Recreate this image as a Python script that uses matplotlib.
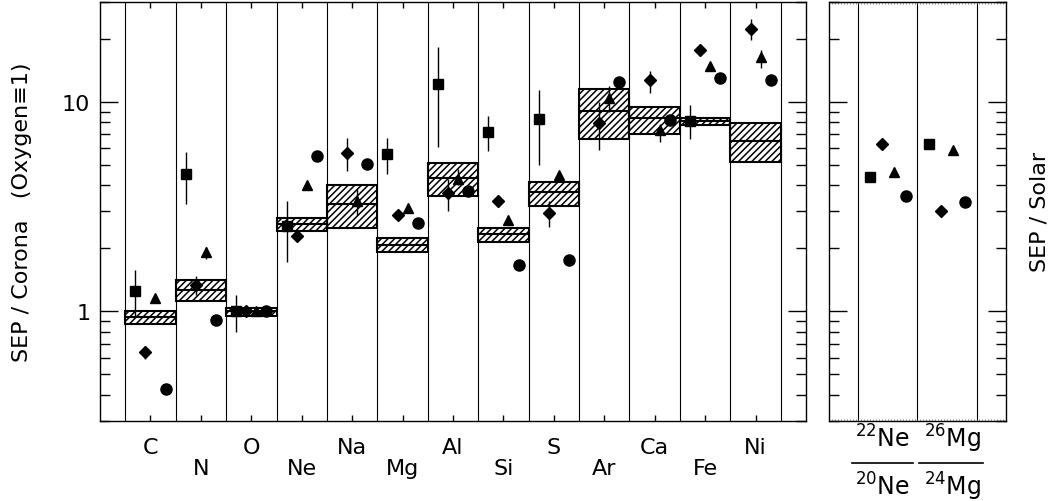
import numpy as np
import matplotlib
matplotlib.use("Agg")
import matplotlib.pyplot as plt
import matplotlib.transforms as mtrans
from matplotlib.ticker import FixedLocator, LogLocator, NullFormatter, MultipleLocator

plt.rcParams['font.family'] = ['DejaVu Sans']
plt.rcParams['hatch.linewidth'] = 1.1

nan = np.nan

# elements, left panel
elements = ['C', 'N', 'O', 'Ne', 'Na', 'Mg', 'Al', 'Si', 'S', 'Ar', 'Ca', 'Fe', 'Ni']

# corona bands (lo, mid, hi)
band_lo = [0.87, 1.12, 0.953, 2.43, 2.50, 1.92, 3.55, 2.14, 3.20, 6.67, 7.05, 7.73, 5.17]
band_mid = [0.935, 1.26, 1.0, 2.62, 3.26, 2.08, 4.33, 2.33, 3.71, 9.1, 8.37, 8.09, 6.55]
band_hi = [1.0, 1.41, 1.04, 2.80, 4.03, 2.23, 5.11, 2.50, 4.17, 11.6, 9.51, 8.40, 7.95]

# four SEP data sets
sq = [1.25, 4.54, 1.0, 2.57, nan, 5.66, 12.2, 7.23, 8.26, nan, nan, 8.11, nan]
sq_lo = [0.95, 3.26, 0.80, 1.72, nan, 4.51, 6.13, 5.81, 4.98, nan, nan, 6.63, nan]
sq_hi = [1.58, 5.8, 1.196, 3.38, nan, 6.72, 18.3, 8.56, 11.4, nan, nan, 9.65, nan]

di = [0.64, 1.34, 1.0, 2.30, 5.70, 2.89, 3.67, 3.36, 2.96, 7.93, 12.7, 17.8, 22.4]
di_lo = [0.59, 1.19, nan, nan, 4.66, nan, 3.0, nan, 2.54, 5.87, 11.1, nan, 19.8]
di_hi = [0.685, 1.48, nan, nan, 6.72, nan, 4.30, nan, 3.38, 10.0, 14.1, nan, 25.0]

tr = [1.16, 1.92, 1.0, 4.03, 3.38, 3.11, 4.30, 2.74, 4.49, 10.45, 7.39, 14.9, 16.4]
tr_lo = [nan, 1.78, nan, nan, 2.87, nan, 4.0, nan, nan, 8.95, 6.43, nan, 14.6]
tr_hi = [nan, 2.03, nan, nan, 3.85, nan, 4.8, nan, nan, 11.9, 7.86, nan, 17.7]

ci = [0.425, 0.91, 1.0, 5.55, 5.07, 2.65, 3.75, 1.665, 1.75, 12.47, 8.23, 13.0, 12.7]

# isotope ratios, right panel
ratios = [r'$^{22}$Ne', r'$^{26}$Mg']
ratios_den = [r'$^{20}$Ne', r'$^{24}$Mg']
r_sq = [4.40, 6.32]
r_di = [6.27, 3.01]
r_tr = [4.62, 5.91]
r_ci = [3.57, 3.32]

fig = plt.figure(figsize=(10.64, 5.02), dpi=100)
ax = fig.add_axes([0.094, 0.160, 0.6635, 0.8335])
ax2 = fig.add_axes([0.7791, 0.160, 0.1664, 0.8335])

x = np.arange(len(elements))
mk = dict(color='black', linestyle='none', zorder=5)

for i in range(len(elements)):
    ax.bar(x[i], band_hi[i] - band_lo[i], bottom=band_lo[i], width=1.0,
           fill=False, hatch='/////', edgecolor='black', linewidth=1.5, zorder=2)
    ax.hlines(band_mid[i], x[i] - 0.5, x[i] + 0.5, color='black', lw=1.5, zorder=2)

for b in np.arange(-0.5, len(elements), 1.0):
    ax.axvline(b, color='black', lw=0.8, zorder=1)


def errs(v, lo, hi):
    v, lo, hi = np.array(v), np.array(lo), np.array(hi)
    return np.nan_to_num(np.vstack([v - lo, hi - v]))


ax.errorbar(x - 0.3, sq, yerr=errs(sq, sq_lo, sq_hi), fmt='s', ms=7, capsize=0, elinewidth=1, **mk)
ax.errorbar(x - 0.1, di, yerr=errs(di, di_lo, di_hi), fmt='D', ms=6, capsize=0, elinewidth=1, **mk)
ax.errorbar(x + 0.1, tr, yerr=errs(tr, tr_lo, tr_hi), fmt='^', ms=7.5, capsize=0, elinewidth=1, **mk)
ax.plot(x + 0.3, ci, 'o', ms=8, **mk)

xr = np.array([0.5, 1.5])
ax2.plot(xr - 0.3, r_sq, 's', ms=7, **mk)
ax2.plot(xr - 0.1, r_di, 'D', ms=6, **mk)
ax2.plot(xr + 0.1, r_tr, '^', ms=7.5, **mk)
ax2.plot(xr + 0.3, r_ci, 'o', ms=8, **mk)
for b in [0, 1, 2]:
    ax2.axvline(b, color='black', lw=0.8, zorder=1)

for a in (ax, ax2):
    a.set_yscale('log')
    a.set_ylim(0.3, 30)
    a.yaxis.set_major_locator(FixedLocator([1, 10]))
    a.yaxis.set_minor_locator(LogLocator(base=10, subs=np.arange(2, 10)))
    a.yaxis.set_minor_formatter(NullFormatter())
    a.tick_params(axis='y', which='major', direction='in', length=13, width=1,
                  left=True, right=True, labelsize=16, pad=7)
    a.tick_params(axis='y', which='minor', direction='in', length=7, width=1,
                  left=True, right=True)
    for s in a.spines.values():
        s.set_linewidth(1)

ax.set_yticklabels(['1', '10'])
ax2.set_yticklabels([])

ax.set_xlim(-1, 13)
ax.set_xticks(x)
ax.set_xticklabels([])
ax.tick_params(axis='x', which='major', direction='in', length=4, width=1, top=True, bottom=True)

ax2.set_xlim(-0.5, 2.5)
ax2.set_xticks([])
ax2.xaxis.set_minor_locator(MultipleLocator(0.05))
ax2.tick_params(axis='x', which='minor', direction='in', length=1.5, width=0.5,
                color='0.4', top=True, bottom=True)

# staggered element labels
tr_lab = mtrans.blended_transform_factory(ax.transData, fig.transFigure)
for i, name in enumerate(elements):
    yy = 0.0956 if i % 2 == 0 else 0.0538
    ax.text(x[i], yy, name, transform=tr_lab, fontsize=16, ha='center', va='baseline')

# isotope ratio labels as fractions
tr_lab2 = mtrans.blended_transform_factory(ax2.transData, fig.transFigure)
for k, cx in enumerate([0.4, 1.6]):
    ax2.text(cx, 0.1076, ratios[k], transform=tr_lab2, fontsize=17, ha='center', va='baseline')
    ax2.text(cx, 0.013, ratios_den[k], transform=tr_lab2, fontsize=17, ha='center', va='baseline')
ax2.plot([-0.113, 0.926], [0.0757, 0.0757], color='black', lw=1.2, transform=tr_lab2, clip_on=False)
ax2.plot([1.033, 2.118], [0.0757, 0.0757], color='black', lw=1.2, transform=tr_lab2, clip_on=False)

fig.text(0.021, 0.578, 'SEP / Corona   (Oxygen\u22611)', rotation=90, ha='center', va='center', fontsize=16)
fig.text(0.977, 0.578, 'SEP / Solar', rotation=90, ha='center', va='center', fontsize=16)

fig.savefig('out.png', dpi=100)
